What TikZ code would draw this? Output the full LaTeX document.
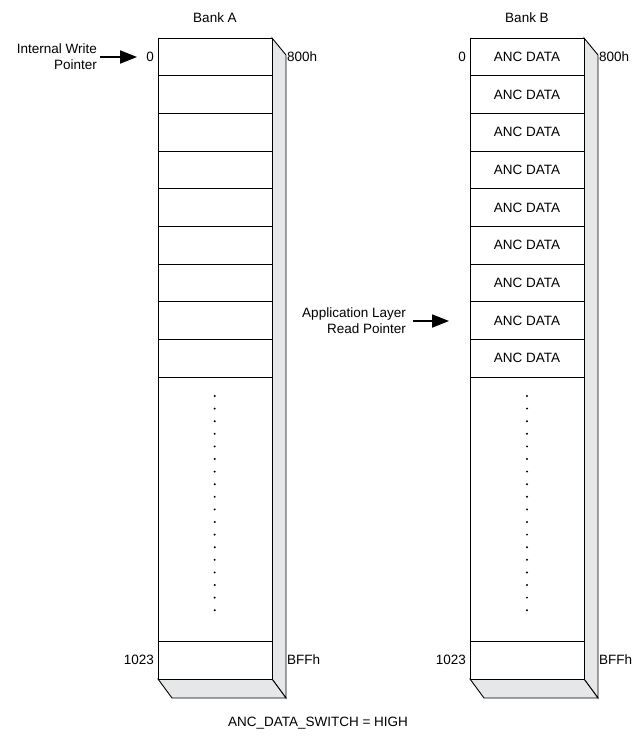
\documentclass[tikz,border=0pt]{standalone}
\usepackage{fontspec}
\setmainfont{Liberation Sans}
\usetikzlibrary{arrows.meta}
\definecolor{depthgray}{HTML}{E6E7E8}
\newcommand\lblfont{\fontsize{13.5}{16}\selectfont}
\tikzset{
  cell/.style={draw, line width=0.9pt, fill=white, minimum width=114pt, minimum height=37.67pt,
    inner sep=0pt, outer sep=0pt, anchor=north west, font=\lblfont},
  lab/.style={font=\lblfont, inner sep=1pt},
  ptr/.style={line width=1.8pt, -{Triangle[length=17pt,width=13pt]}},
  side/.style={draw, line width=0.9pt, fill=depthgray, line join=miter},
  dotmark/.style={fill=black, draw=none},
}
\begin{document}
\begin{tikzpicture}[x=1pt,y=-1pt]
\useasboundingbox (0,0) rectangle (636,744);
% depth faces
\foreach \X in {158,470} {
  \path[side] ({\X+114},38) -- ({\X+128},55) -- ({\X+128},698) -- ({\X+114},679) -- cycle;
  \path[side] (\X,679) -- ({\X+114},679) -- ({\X+128},698) -- ({\X+14},698) -- cycle;
}
% Bank A cells
\foreach \i in {1,...,9} {
  \node[cell] (A\i) at (158,{38+37.67*(\i-1)}) {};
}
\node[cell, minimum height=264.1pt] (Abig) at (158,377.0) {};
\node[cell, minimum height=38pt] (Alast) at (158,641) {};
% Bank B cells
\foreach \i in {1,...,9} {
  \node[cell] (B\i) at (470,{38+37.67*(\i-1)}) {ANC DATA};
}
\node[cell, minimum height=264.1pt] (Bbig) at (470,377.0) {};
\node[cell, minimum height=38pt] (Blast) at (470,641) {};
% dots
\foreach \k in {0,...,17} {
  \fill[dotmark] (214.7,{396+12.6*\k}) circle (1.1pt);
  \fill[dotmark] (527,{396+12.6*\k}) circle (1.1pt);
}
% titles
\node[lab] (tA) at (215,18) {Bank A};
\node[lab] (tB) at (527,18) {Bank B};
% address labels
\node[lab, anchor=east] (zA) at (155,57) {0};
\node[lab, anchor=west] (hA) at (286,57) {800h};
\node[lab, anchor=east] (eA) at (155,660) {1023};
\node[lab, anchor=west] (fA) at (286,660) {BFFh};
\node[lab, anchor=east] (zB) at (467,57) {0};
\node[lab, anchor=west] (hB) at (598,57) {800h};
\node[lab, anchor=east] (eB) at (467,660) {1023};
\node[lab, anchor=west] (fB) at (598,660) {BFFh};
% pointers
\node[lab, anchor=east, align=right] (wp) at (98,57) {Internal Write\\Pointer};
\draw[ptr] (wp.east) ++(2,0) coordinate (wps) -- (137,57) coordinate (wpe);
\node[lab, anchor=east, align=right] (rp) at (407,321) {Application Layer\\Read Pointer};
\draw[ptr] (rp.east) ++(6,0) coordinate (rps) -- (449,321) coordinate (rpe);
% bottom caption
\node[lab] (cap) at (318,723) {ANC\_DATA\_SWITCH = HIGH};
\end{tikzpicture}
\end{document}
